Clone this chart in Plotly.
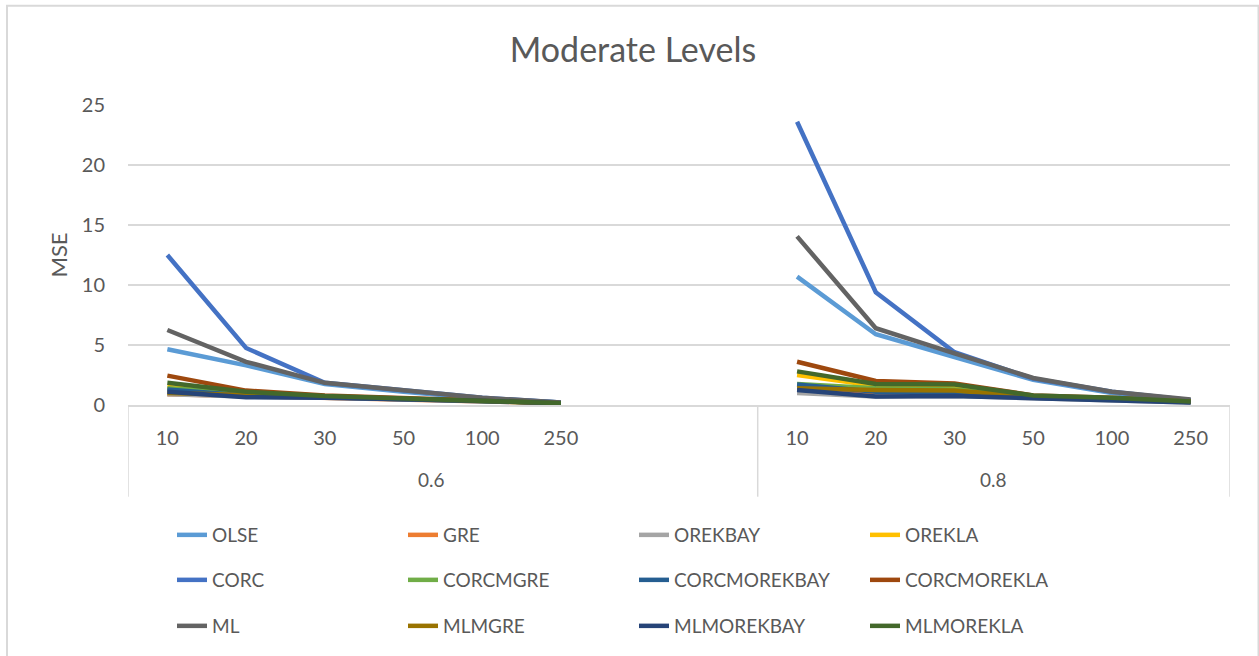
import plotly.graph_objects as go

sizes = ["10", "20", "30", "50", "100", "250"]
groups = ["0.6", "0.8"]

names = ["OLSE", "GRE", "OREKBAY", "OREKLA",
         "CORC", "CORCMGRE", "CORCMOREKBAY", "CORCMOREKLA",
         "ML", "MLMGRE", "MLMOREKBAY", "MLMOREKLA"]

colors = ["#5B9BD5", "#ED7D31", "#A5A5A5", "#FFC000",
          "#4472C4", "#70AD47", "#255E91", "#9E480E",
          "#636363", "#997300", "#264478", "#43682B"]

# MSE values at rho = 0.6 (n = 10,20,30,50,100,250)
OLSE_06 = [4.65, 3.3, 1.75, 1.1, 0.55, 0.2]
GRE_06 = [0.9, 0.75, 0.6, 0.5, 0.35, 0.15]
OREKBAY_06 = [0.9, 0.7, 0.6, 0.5, 0.35, 0.15]
OREKLA_06 = [1.5, 1.0, 0.7, 0.5, 0.35, 0.15]
CORC_06 = [12.5, 4.75, 1.85, 1.2, 0.6, 0.2]
CORCMGRE_06 = [1.4, 1.0, 0.7, 0.5, 0.35, 0.15]
CORCMOREKBAY_06 = [1.3, 0.8, 0.65, 0.5, 0.35, 0.15]
CORCMOREKLA_06 = [2.45, 1.2, 0.8, 0.6, 0.4, 0.15]
ML_06 = [6.25, 3.6, 1.85, 1.2, 0.6, 0.2]
MLMGRE_06 = [1.0, 0.85, 0.65, 0.5, 0.35, 0.15]
MLMOREKBAY_06 = [1.1, 0.65, 0.6, 0.5, 0.35, 0.15]
MLMOREKLA_06 = [1.85, 1.1, 0.75, 0.55, 0.4, 0.15]

# MSE values at rho = 0.8 (n = 10,20,30,50,100,250)
OLSE_08 = [10.7, 5.9, 4.0, 2.1, 1.0, 0.4]
GRE_08 = [1.3, 1.0, 1.0, 0.65, 0.45, 0.25]
OREKBAY_08 = [1.0, 0.7, 0.75, 0.55, 0.4, 0.2]
OREKLA_08 = [2.5, 1.6, 1.5, 0.75, 0.55, 0.3]
CORC_08 = [23.6, 9.4, 4.4, 2.2, 1.1, 0.4]
CORCMGRE_08 = [1.75, 1.4, 1.3, 0.7, 0.5, 0.3]
CORCMOREKBAY_08 = [1.7, 1.1, 1.1, 0.6, 0.45, 0.25]
CORCMOREKLA_08 = [3.6, 2.0, 1.8, 0.8, 0.6, 0.3]
ML_08 = [14.05, 6.4, 4.3, 2.25, 1.1, 0.45]
MLMGRE_08 = [1.4, 1.25, 1.2, 0.7, 0.5, 0.3]
MLMOREKBAY_08 = [1.25, 0.7, 0.75, 0.55, 0.4, 0.2]
MLMOREKLA_08 = [2.8, 1.75, 1.7, 0.8, 0.6, 0.3]

series_06 = [OLSE_06, GRE_06, OREKBAY_06, OREKLA_06, CORC_06, CORCMGRE_06,
             CORCMOREKBAY_06, CORCMOREKLA_06, ML_06, MLMGRE_06, MLMOREKBAY_06, MLMOREKLA_06]
series_08 = [OLSE_08, GRE_08, OREKBAY_08, OREKLA_08, CORC_08, CORCMGRE_08,
             CORCMOREKBAY_08, CORCMOREKLA_08, ML_08, MLMGRE_08, MLMOREKBAY_08, MLMOREKLA_08]

# category slots: 6 sizes + 2 blank slots for group 0.6, then 6 sizes for 0.8
xpos = list(range(14))
tickvals = list(range(6)) + list(range(8, 14))
ticktext = sizes + sizes

FONT = "Lato"
GREY = "#595959"
GRID = "#D9D9D9"

fig = go.Figure()
legend_ids = ["legend", "legend2", "legend3"]
for i, (nm, col) in enumerate(zip(names, colors)):
    y = series_06[i] + [None, None] + series_08[i]
    fig.add_trace(go.Scatter(
        x=xpos, y=y, mode="lines", name=nm,
        line=dict(color=col, width=4.5),
        connectgaps=False,
        legend=legend_ids[i // 4],
    ))

# plot area in pixels
L, R, T, B = 128, 1230, 105, 406
W, H = 1259, 656
pw, ph = R - L, B - T

def py(pix):
    return (B - pix) / ph

def px(pix):
    return (pix - L) / pw

shapes = []
# group separators for multi-level category axis
for xv in [-0.5, 7.5, 13.5]:
    shapes.append(dict(type="line", xref="x", yref="paper", x0=xv, x1=xv,
                       y0=0, y1=py(498), line=dict(color=GRID, width=1.5)))
# outer chart border
shapes.append(dict(type="rect", xref="paper", yref="paper",
                   x0=px(7), x1=px(1258.5), y0=py(5.5), y1=py(665),
                   line=dict(color=GRID, width=2), fillcolor="rgba(0,0,0,0)"))

annotations = [
    dict(text=groups[0], x=3.35, y=py(481), xref="x", yref="paper",
         xanchor="center", yanchor="middle",
         showarrow=False, font=dict(family=FONT, size=19, color=GREY)),
    dict(text=groups[1], x=10.5, y=py(481), xref="x", yref="paper",
         xanchor="center", yanchor="middle",
         showarrow=False, font=dict(family=FONT, size=19, color=GREY)),
]

leg_font = dict(family=FONT, size=19, color=GREY)
row_y = [535, 580, 626]
legends = {}
for k, lid in enumerate(legend_ids):
    legends[lid] = dict(
        orientation="h", x=px(172), y=py(row_y[k]), xanchor="left", yanchor="middle",
        xref="paper", yref="paper",
        entrywidth=186, entrywidthmode="pixels",
        font=leg_font, bgcolor="rgba(0,0,0,0)", itemwidth=30,
        traceorder="normal",
    )

fig.update_layout(
    width=W, height=H,
    margin=dict(l=L, r=W - R, t=T, b=H - B),
    paper_bgcolor="white", plot_bgcolor="white",
    title=dict(text="Moderate Levels", x=633 / W, xref="container", xanchor="center",
               y=1 - 50 / H, yref="container", yanchor="middle",
               font=dict(family=FONT, size=34, color=GREY)),
    xaxis=dict(range=[-0.5, 13.5], tickvals=tickvals, ticktext=ticktext,
               showgrid=False, zeroline=False, showline=True, linecolor=GRID, linewidth=1.5,
               ticks="", ticklabelstandoff=14,
               tickfont=dict(family=FONT, size=20, color=GREY), fixedrange=True),
    yaxis=dict(range=[0, 25], tickvals=[0, 5, 10, 15, 20, 25],
               showgrid=True, gridcolor=GRID, gridwidth=1.5, zeroline=False,
               ticks="", ticklabelstandoff=22,
               tickfont=dict(family=FONT, size=20, color=GREY),
               title=dict(text="MSE", font=dict(family=FONT, size=22, color=GREY), standoff=8),
               fixedrange=True),
    shapes=shapes, annotations=annotations,
    showlegend=True,
    **legends,
)

fig.write_html("out.html")
